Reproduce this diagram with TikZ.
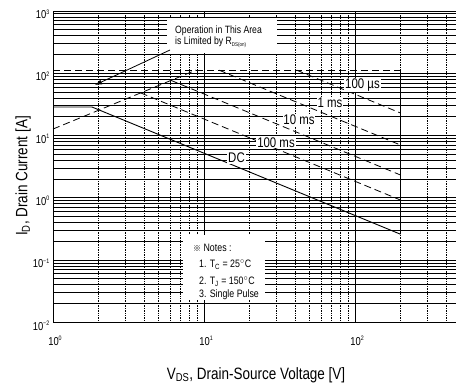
\documentclass[tikz,border=0pt]{standalone}
\usepackage{fontspec}
\usepackage{graphicx}
\setmainfont{Liberation Sans}[FakeStretch=0.82]
\newfontfamily\cjk{Noto Sans CJK SC}
\usetikzlibrary{arrows.meta}
\newcommand\supx[1]{\raisebox{4.6bp}{\fontsize{6.5}{6.5}\selectfont #1}}
\begin{document}
\begin{tikzpicture}[x=1bp,y=1bp,
  hgrid/.style={line width=0.75bp,black},
  vgrid/.style={line width=0.7bp,black,densely dotted},
  vmajor/.style={line width=0.85bp,black},
  limline/.style={line width=0.8bp,black,dash pattern=on 7bp off 4bp},
  dcline/.style={line width=0.9bp,black},
  curvelab/.style={font=\fontsize{14}{14}\selectfont,fill=white,inner sep=0.8bp},
  ticklab/.style={font=\fontsize{11.5}{11.5}\selectfont,inner sep=0pt},
  axtitle/.style={font=\fontsize{16.5}{16.5}\selectfont,inner sep=0pt},
  notetxt/.style={font=\fontsize{10.8}{10.8}\selectfont,inner sep=0pt,anchor=west},
  optxt/.style={font=\fontsize{10.6}{10.6}\selectfont,inner sep=0pt,anchor=west},
]
\useasboundingbox (0,0) rectangle (456,388);
\fill[white] (0,0) rectangle (456,388);
\begin{scope}
\clip (0,0) rectangle (456,388);
\begin{scope}[shift={(53,190.22)},x=151bp,y=62.26bp]
  % horizontal grid
  \foreach \dec in {-2,...,2}{
    \foreach \mul in {2,...,9}{
      \draw[hgrid] (0,{\dec+log10(\mul)}) -- (2.7,{\dec+log10(\mul)});
    }
  }
  \foreach \dec in {-1,0,1,2} \draw[hgrid] (0,\dec) -- (2.7,\dec);
  % vertical grid
  \foreach \dec in {0,1,2}{
    \foreach \mul in {2,...,9}{
      \draw[vgrid] ({\dec+log10(\mul)},-2) -- ({\dec+log10(\mul)},3);
    }
  }
  \draw[vmajor] (1,-2) -- (1,3);
  \draw[vmajor] (2,-2) -- (2,3);
  % frame
  \draw[line width=0.9bp] (2.7,3) -- (0,3) -- (0,-2) -- (2.7,-2);
  % limit lines
  \coordinate (r0) at (0,1.104);
  \coordinate (r1) at (0.946,2.05);
  \coordinate (m0) at (0,2.05);
  \coordinate (m1) at (2.301,2.05);
  \coordinate (v1) at (2.301,-0.585);
  \draw[limline] (r0) -- (r1);
  \draw[limline] (m0) -- (m1);
  \draw[vmajor] (m1) -- (v1);
  % pulse lines
  \coordinate (a0) at (1.613,2.05);   \coordinate (a1) at (2.301,1.362);
  \coordinate (b0) at (1.099,2.05);   \coordinate (b1) at (2.301,0.848);
  \coordinate (c0) at (0.7815,1.8855);\coordinate (c1) at (2.301,0.366);
  \coordinate (d0) at (0.5805,1.6845);\coordinate (d1) at (2.301,-0.036);
  \draw[limline] (a0) -- (a1);
  \draw[limline] (b0) -- (b1);
  \draw[limline] (c0) -- (c1);
  \draw[limline] (d0) -- (d1);
  % DC
  \coordinate (e0) at (0,1.458);
  \coordinate (e1) at (0.258,1.458);
  \draw[dcline] (e0) -- (e1) -- (v1);
\end{scope}
% curve labels
\node[curvelab] (l100us) at (362.5,303) {100 µs};
\node[curvelab] (l1ms) at (330,285) {1 ms};
\node[curvelab] (l10ms) at (299,268) {10 ms};
\node[curvelab] (l100ms) at (276,245.5) {100 ms};
\node[curvelab] (ldc) at (236.5,230) {DC};
% operation box
\fill[white] (167,335) rectangle (277,370);
\node[optxt] (op1) at (175,357) {Operation in This Area};
\node[optxt] (op2) at (175,346) {is Limited by R\raisebox{-2.5bp}{\fontsize{5.5}{5.5}\selectfont DS(on)}};
\coordinate (arrS) at (170,338);
\coordinate (arrE) at (95,303);
\draw[line width=0.8bp,-{Latex[length=7bp,width=5bp]}] (arrS) -- (arrE);
% notes box
\fill[white] (183,88) rectangle (265,153);
\node[notetxt] (n0) at (193,140) {{\cjk\fontsize{8}{8}\selectfont ※} Notes :};
\node[notetxt] (n1) at (199,123) {1. T\textsubscript{C} = 25$^{\circ}$C};
\node[notetxt] (n2) at (199,106.3) {2. T\textsubscript{J} = 150$^{\circ}$C};
\node[notetxt] (n3) at (199,93) {3. Single Pulse};
\end{scope}
% tick labels
\foreach \dec/\txt in {3/3,2/2,1/1,0/0,-1/−1,-2/−2}{
  \node[ticklab,anchor=base east] at (49.5,{388-(11+(3-\dec)*62.26+7.7)}) {10\supx{\txt}};
}
\foreach \dec in {0,1,2}{
  \node[ticklab,anchor=base] at ({53+151*\dec+2},43) {10\supx{\dec}};
}
% axis titles
\node[axtitle] (xt) at (256,13) {V\textsubscript{DS}, Drain-Source Voltage [V]};
\node[axtitle,rotate=90] (yt) at (23,212) {I\textsubscript{D}, Drain Current [A]};
\end{tikzpicture}
\end{document}
